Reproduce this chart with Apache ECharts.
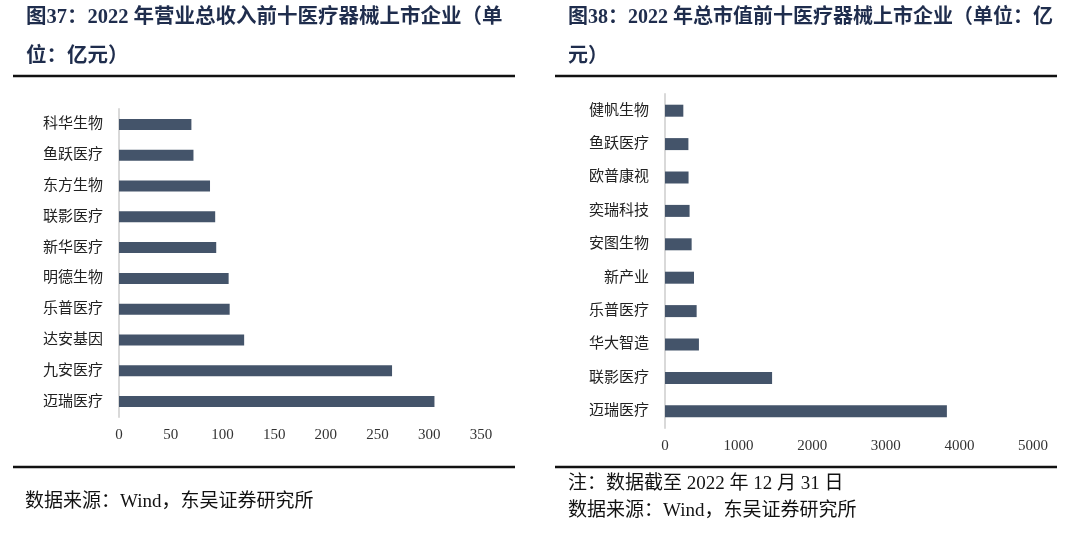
<!DOCTYPE html>
<html><head><meta charset="utf-8">
<script src="https://cdn.jsdelivr.net/npm/echarts@6/dist/echarts.min.js"></script>
<style>html,body{margin:0;padding:0;background:#fff}#c{width:1080px;height:534px}</style>
</head><body><div id="c"></div>
<script>
const leftCategories = ['科华生物','鱼跃医疗','东方生物','联影医疗','新华医疗','明德生物','乐普医疗','达安基因','九安医疗','迈瑞医疗'];
const leftValues = [70, 72, 88, 93, 94, 106, 107, 121, 264, 305];
const leftTicks = [0, 50, 100, 150, 200, 250, 300, 350];
const rightCategories = ['健帆生物','鱼跃医疗','欧普康视','奕瑞科技','安图生物','新产业','乐普医疗','华大智造','联影医疗','迈瑞医疗'];
const rightValues = [249, 318, 320, 334, 362, 394, 430, 461, 1455, 3830];
const rightTicks = [0, 1000, 2000, 3000, 4000, 5000];

const FONT = '"Liberation Serif", "Noto Sans CJK SC", serif';
const TITLE_COLOR = '#1f2d4d';
const BAR = '#44546A';

const chart = echarts.init(document.getElementById('c'), null, {renderer: 'canvas'});
function t(text, x, y, size, bold, color) {
  return {type: 'text', x: x, y: y, style: {text: text, fontFamily: FONT, fontSize: size,
    fontWeight: bold ? 'bold' : 'normal', fill: color || '#000', textVerticalAlign: 'middle'}};
}
function rule(x1, x2, y) {
  return {type: 'line', shape: {x1: x1, y1: y, x2: x2, y2: y}, style: {stroke: '#111', lineWidth: 2.5}};
}
const plain = v => String(v);
const labelStyle = {fontFamily: FONT, fontSize: 15, color: '#333', formatter: plain};
const catStyle = {fontFamily: FONT, fontSize: 15, color: '#222', margin: 16};
chart.setOption({
  animation: false,
  grid: [
    {left: 119, right: 599, top: 109, bottom: 117},
    {left: 665, right: 47, top: 94, bottom: 106}
  ],
  xAxis: [
    {gridIndex: 0, type: 'value', min: leftTicks[0], max: leftTicks[leftTicks.length - 1], interval: leftTicks[1] - leftTicks[0],
     splitLine: {show: false}, axisLine: {show: false}, axisTick: {show: false},
     axisLabel: Object.assign({margin: 11}, labelStyle)},
    {gridIndex: 1, type: 'value', min: rightTicks[0], max: rightTicks[rightTicks.length - 1], interval: rightTicks[1] - rightTicks[0],
     splitLine: {show: false}, axisLine: {show: false}, axisTick: {show: false},
     axisLabel: Object.assign({margin: 11}, labelStyle)}
  ],
  yAxis: [
    {gridIndex: 0, type: 'category', data: leftCategories, inverse: true,
     axisLine: {show: true, lineStyle: {color: '#d9d9d9', width: 2}}, axisTick: {show: false},
     axisLabel: catStyle},
    {gridIndex: 1, type: 'category', data: rightCategories, inverse: true,
     axisLine: {show: true, lineStyle: {color: '#d9d9d9', width: 2}}, axisTick: {show: false},
     axisLabel: catStyle}
  ],
  series: [
    {type: 'bar', xAxisIndex: 0, yAxisIndex: 0, data: leftValues, barWidth: 11, itemStyle: {color: BAR}},
    {type: 'bar', xAxisIndex: 1, yAxisIndex: 1, data: rightValues, barWidth: 12, itemStyle: {color: BAR}}
  ],
  graphic: [
    t('图37：2022 年营业总收入前十医疗器械上市企业（单', 26, 18, 20.5, true, TITLE_COLOR),
    t('位：亿元）', 26, 57, 20.5, true, TITLE_COLOR),
    t('图38：2022 年总市值前十医疗器械上市企业（单位：亿', 568, 18, 20, true, TITLE_COLOR),
    t('元）', 568, 57, 20, true, TITLE_COLOR),
    rule(13, 515, 76), rule(13, 515, 467),
    rule(555, 1057, 76), rule(555, 1057, 467),
    t('数据来源：Wind，东吴证券研究所', 25, 502, 19, false, '#111'),
    t('注：数据截至 2022 年 12 月 31 日', 568, 484, 19, false, '#111'),
    t('数据来源：Wind，东吴证券研究所', 568, 511, 19, false, '#111')
  ]
});
</script></body></html>
